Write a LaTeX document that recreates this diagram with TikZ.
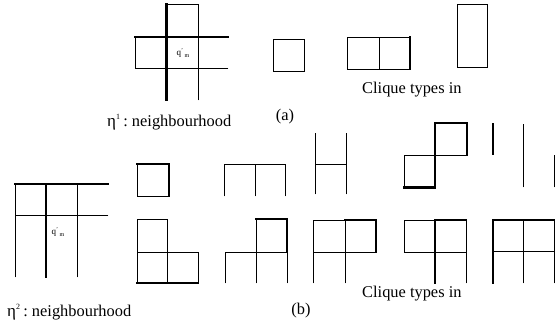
\documentclass[tikz,border=0pt]{standalone}
\usepackage{fontspec}
\setmainfont{Liberation Serif}
\tikzset{
  thin line/.style={line width=0.9pt, line cap=rect},
  thick line/.style={line width=2.2pt, line cap=rect},
  mid line/.style={line width=1.5pt, line cap=rect},
  lbl/.style={inner sep=0pt, font=\fontsize{16.4}{18}\selectfont},
  qlbl/.style={inner sep=0pt},
}
\newcommand{\qmark}{{\fontsize{9}{10}\selectfont q\raisebox{3pt}{\fontsize{6}{6}\selectfont '}\,\raisebox{-1.5pt}{\fontsize{6}{6}\selectfont m}}}
\begin{document}
\begin{tikzpicture}[x=1pt,y=-1pt]
\useasboundingbox (0,0) rectangle (555,325);
% ---------- (a) neighbourhood ----------
\draw[thin line] (198,4) -- (198,100);
\draw[thin line] (135,68) -- (228,68);
\draw[thin line] (135,37) -- (135,68);
\draw[thin line] (166.5,4) -- (198,4);
\draw[thick line] (166.5,4) -- (166.5,100);
\draw[thick line] (135,37) -- (228,37);
\node[qlbl] (qa) at (183,53) {\qmark};
\node[lbl, anchor=base west] (etaa) at (107,126) {{\fontsize{17}{17}\selectfont η}\textsuperscript{\fontsize{8}{8}\selectfont 1}\,:\ neighbourhood};
\node[lbl] (la) at (285,117) {(a)};
% ---------- (a) cliques ----------
\draw[thin line] (273,39) rectangle (304,71);
\draw[thin line] (347,37) -- (410,37) (347,37) -- (347,69) -- (410,69) (379,37) -- (379,69);
\draw[mid line] (410,37) -- (410,69);
\draw[thin line] (457,4) rectangle (487,67);
\node[lbl, anchor=base west] (cta) at (362,93) {Clique types in};
% ---------- (b) neighbourhood ----------
\draw[thin line] (15,215) -- (108,215);
\draw[thin line] (15,184) -- (15,277);
\draw[thin line] (77.7,184) -- (77.7,277);
\draw[thick line] (15,184) -- (108,184);
\draw[thick line] (46,184) -- (46,277);
\node[qlbl] (qb) at (58,232) {\qmark};
\node[lbl, anchor=base west] (etab) at (7,316) {{\fontsize{17}{17}\selectfont η}\textsuperscript{\fontsize{8}{8}\selectfont 2}\,:\ neighbourhood};
\node[lbl] (lb) at (301,311) {(b)};
% ---------- (b) row 1 ----------
\draw[thin line] (137,164) rectangle (169,196);
\draw[mid line] (137,164) -- (169,164) -- (169,196);
\draw[thin line] (224,196) -- (224,164) -- (285,164) -- (285,196) (255,164) -- (255,196);
\draw[thin line] (315,133) -- (315,194) (346,133) -- (346,194) (315,164) -- (346,164);
\draw[thin line] (404,155) -- (467,155) (404,155) -- (404,187.5);
\draw[thick line] (435,123) -- (467,123) -- (467,155) (435,123) -- (435,187.5) (404,187.5) -- (435,187.5);
\draw[thick line] (493,124) -- (493,154);
\draw[thin line] (523,124) -- (523,187) (554,155) -- (554,187);
% ---------- (b) row 2 ----------
\draw[thin line] (137,252) -- (198,252) -- (198,283) (137,219) -- (167,219) -- (167,283) (137,219) -- (137,283);
\draw[thick line] (137,283) -- (198,283);
\draw[thin line] (225,283) -- (225,252) -- (287,252) (256,283) -- (256,219) (287,283) -- (287,252);
\draw[thick line] (256,219) -- (287,219) -- (287,252);
\draw[thin line] (313,283) -- (313,220) -- (345,220) (313,252) -- (376,252) (345,220) -- (345,283);
\draw[thick line] (345,220) -- (376,220) -- (376,252);
\draw[thin line] (404,220) -- (435,220) (404,220) -- (404,252) (404,252) -- (466,252) (466,220) -- (466,283);
\draw[mid line] (435,220) -- (466,220);
\draw[thick line] (435,220) -- (435,283);
\draw[mid line] (493,220) -- (554,220);
\draw[thin line] (493,251) -- (554,251) (523,220) -- (523,283) (554,220) -- (554,283);
\draw[thick line] (493,220) -- (493,283);
\node[lbl, anchor=base west] (ctb) at (362,297) {Clique types in};
\end{tikzpicture}
\end{document}
